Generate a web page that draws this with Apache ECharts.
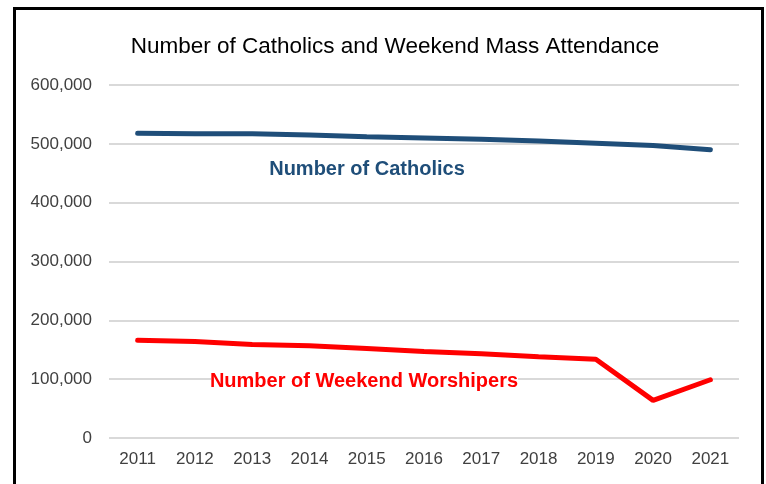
<!DOCTYPE html>
<html>
<head>
<meta charset="utf-8">
<script src="https://cdn.jsdelivr.net/npm/echarts@6/dist/echarts.min.js"></script>
<style>
html,body{margin:0;padding:0;background:#fff;}
#chart{width:766px;height:484px;}
</style>
</head>
<body>
<div id="chart"></div>
<script>
var years = ['2011','2012','2013','2014','2015','2016','2017','2018','2019','2020','2021'];
var catholics = [518000, 517000, 517000, 515000, 512000, 510000, 508000, 505000, 501000, 497000, 490000];
var worshipers = [166000, 164000, 159000, 157000, 152000, 147000, 143000, 138000, 134000, 64000, 99000];
var yTicks = [0, 100000, 200000, 300000, 400000, 500000, 600000];

var chart = echarts.init(document.getElementById('chart'));
var font = '"Liberation Sans", Arial, sans-serif';

chart.setOption({
	animation: false,
	title: {
		text: 'Number of Catholics and Weekend Mass Attendance',
		left: 390,
		textAlign: 'center',
		top: 30,
		textStyle: {fontFamily: font, fontSize: 22.5, fontWeight: 'normal', color: '#000'}
	},
	grid: {left: 109, right: 27, top: 85, bottom: 46},
	xAxis: {
		type: 'category',
		data: years,
		boundaryGap: true,
		axisLine: {show: false},
		axisTick: {show: false},
		axisLabel: {fontFamily: font, fontSize: 17, color: '#404040', margin: 13}
	},
	yAxis: {
		type: 'value',
		min: yTicks[0],
		max: yTicks[yTicks.length - 1],
		interval: 100000,
		axisLine: {show: false},
		axisTick: {show: false},
		splitLine: {lineStyle: {color: '#d9d9d9', width: 2}},
		axisLabel: {
			fontFamily: font, fontSize: 17, color: '#404040', margin: 17,
			formatter: function(v){ return v.toLocaleString('en-US'); }
		}
	},
	series: [{
		name: 'Number of Catholics',
		type: 'line',
		data: catholics,
		symbol: 'none',
		lineStyle: {color: '#1f4e79', width: 5, cap: 'round'}
	}, {
		name: 'Number of Weekend Worshipers',
		type: 'line',
		data: worshipers,
		symbol: 'none',
		lineStyle: {color: '#ff0000', width: 5, cap: 'round'}
	}],
	graphic: [{
		type: 'rect',
		z: 100,
		shape: {x: 14.5, y: 8.5, width: 748, height: 500},
		style: {fill: 'none', stroke: '#000', lineWidth: 3}
	}, {
		type: 'rect',
		z: 100,
		shape: {x: 211, y: 370, width: 307, height: 22},
		style: {fill: '#fff'}
	}, {
		type: 'text',
		z: 101,
		x: 367, y: 169,
		style: {text: 'Number of Catholics', fill: '#1f4e79', font: 'bold 20px ' + font, textAlign: 'center', textVerticalAlign: 'middle'}
	}, {
		type: 'text',
		z: 101,
		x: 364, y: 381,
		style: {text: 'Number of Weekend Worshipers', fill: '#ff0000', font: 'bold 20px ' + font, textAlign: 'center', textVerticalAlign: 'middle'}
	}]
});
</script>
</body>
</html>
